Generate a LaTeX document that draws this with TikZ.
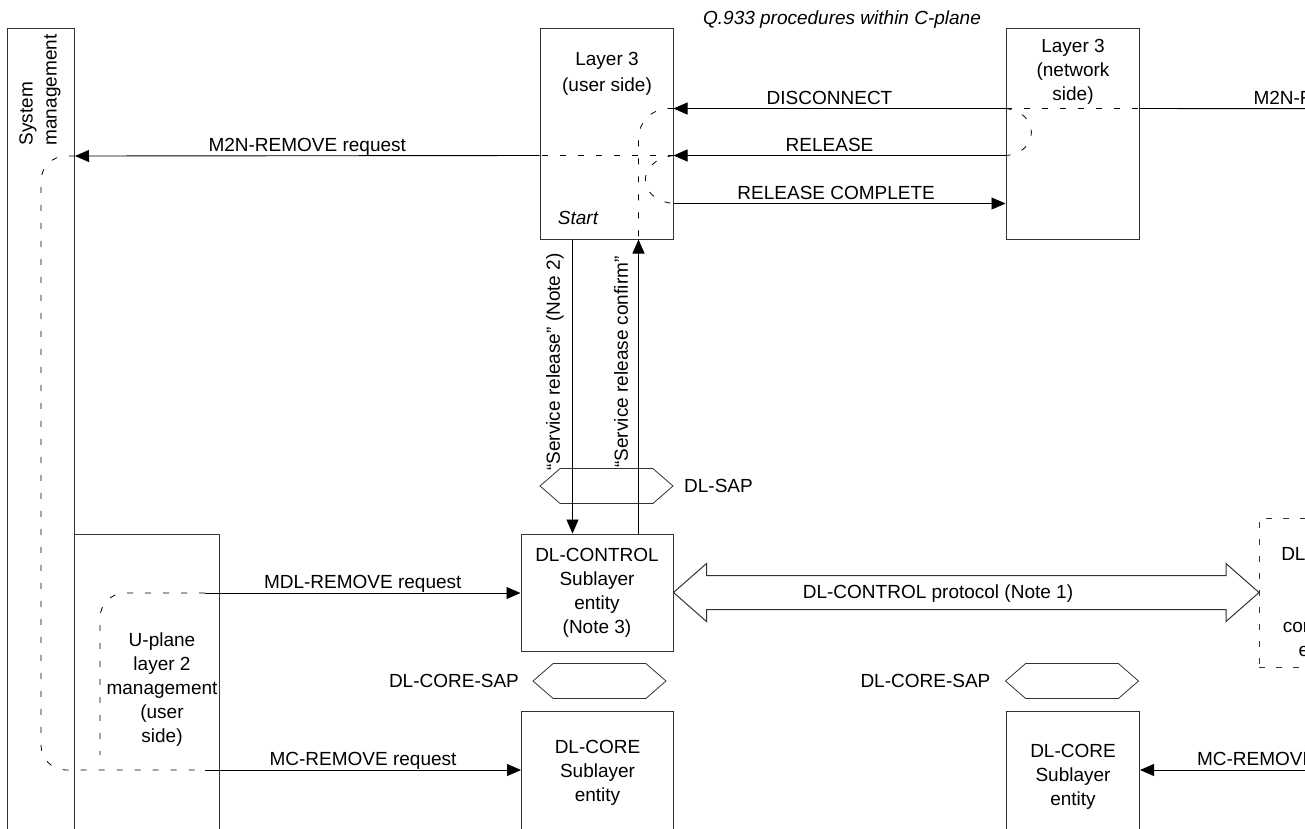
\documentclass[tikz,border=0pt]{standalone}
\usepackage{fontspec}
\setmainfont{Liberation Sans}
\usetikzlibrary{arrows.meta,calc,positioning,shapes.symbols}

\tikzset{
  box/.style={draw=black!80, line width=1pt, inner sep=0pt},
  peerbox/.style={draw=black!80, line width=0.8pt, dash pattern=on 6pt off 11pt, inner sep=0pt},
  sap/.style={draw=black!80, line width=0.8pt, signal, signal to=west and east, signal pointer angle=82,
    minimum width=133pt, minimum height=35pt, inner sep=0pt},
  msg/.style={line width=0.9pt, -{Triangle[length=14pt,width=12pt]}},
  flow/.style={black, line width=0.8pt, dash pattern=on 6pt off 12pt},
  lbl/.style={above, inner sep=1.5pt, text depth=.22em},
}

\begin{document}
\begin{tikzpicture}[x=1pt,y=-1pt,font=\fontsize{19}{24}\selectfont]
\useasboundingbox (0,0) rectangle (1305,828);
\clip (0,0) rectangle (1305,828);

% boxes
\node[box, anchor=north west, minimum width=67pt, minimum height=900pt] (sysm) at (7,28) {};
\node[box, anchor=north west, minimum width=145pt, minimum height=400pt] (uplane) at (74,534) {};
\node[box, minimum width=133pt, minimum height=211pt] (l3u) at (606.5,133.5) {};
\node[box, minimum width=133pt, minimum height=211pt] (l3n) at (1072.5,133.5) {};
\node[box, minimum width=152pt, minimum height=117pt, align=center] (ctrl) at (597,592.5) {DL-CONTROL\\Sublayer\\entity\\(Note 3)};
\node[box, anchor=north west, minimum width=152pt, minimum height=122pt, align=center] (corel) at (521,711) {DL-CORE\\Sublayer\\entity};
\node[box, anchor=north west, minimum width=133pt, minimum height=130pt, align=center] (corer) at (1006,711) {DL-CORE\\Sublayer\\entity};
\node[peerbox, anchor=north west, minimum width=170pt, minimum height=149pt] (peer) at (1259,518) {};

% texts
\node (q933) at (842,20) {\itshape Q.933 procedures within C-plane};
\node[rotate=90, align=left] (sysmtxt) at (40,90) {System\\management};
\node[align=center] (l3utxt) at (607,74) {Layer 3\\[2pt](user side)};
\node (start) at (578,218) {\itshape Start};
\node[align=center] (l3ntxt) at (1073,71.5) {Layer 3\\(network\\side)};
\node[align=center] (uptxt) at (162,690) {U-plane\\layer 2\\management\\(user\\side)};
\node[align=center] (peertxt) at (1343,604) {DL-CONTROL\\Sublayer\\entity\\corresponding\\equipment};

% service access points
\node[sap] (sap) at (606.5,486) {};
\node[right=7pt of sap] (saptxt) {DL-SAP};
\node[sap] (coresapl) at (599.5,681) {};
\node[left=10pt of coresapl] (coresapltxt) {DL-CORE-SAP};
\node[sap] (coresapr) at (1072,681) {};
\node[left=11pt of coresapr] (coresaprtxt) {DL-CORE-SAP};

% Q.933 messages
\draw[msg] ([yshift=-81pt]l3n.north west) -- node[lbl, pos=.53] {DISCONNECT} ([yshift=-81pt]l3u.north east);
\draw[msg] ([yshift=-128pt]l3n.north west) -- node[lbl, pos=.53] {RELEASE} ([yshift=-128pt]l3u.north east);
\draw[msg] ([yshift=-176pt]l3u.north east) -- node[lbl, pos=.49] {RELEASE COMPLETE} ([yshift=-176pt]l3n.north west);
\draw[msg] ([yshift=-128pt]l3u.north west) -- node[lbl] {M2N-REMOVE request} ([yshift=-128pt]sysm.north east);
\coordinate (m2nr) at (1565,109);
\draw[line width=0.9pt] ([yshift=-81pt]l3n.north east) -- node[lbl] {M2N-REMOVE request} (m2nr);

% service primitives
\draw[msg] ([xshift=33pt]l3u.south west) -- ([xshift=52pt]ctrl.north west);
\draw[msg] ([xshift=118pt]ctrl.north west) -- ([xshift=99pt]l3u.south west);
\node[rotate=90] (srtxt) at (555,362) {“Service release” (Note 2)};
\node[rotate=90] (srctxt) at (621,362) {“Service release confirm”};

% management primitives
\coordinate (mdl) at (205,593);
\coordinate (mc) at (205,770);
\coordinate (mcr) at (1441,770);
\draw[msg] (mdl) -- node[lbl] {MDL-REMOVE request} (mdl -| ctrl.west);
\draw[msg] (mc) -- node[lbl] {MC-REMOVE request} (mc -| corel.west);
\draw[msg] (mcr) -- node[lbl] {MC-REMOVE request} (mcr -| corer.east);

% peer protocol
\coordinate (ptip) at (ctrl.east -| peer.west);
\draw[box] (ctrl.east) -- ++(33,-29) -- ++(0,12) -- ($(ptip)+(-33,-17)$) -- ++(0,-12) -- (ptip)
  -- ++(-33,29) -- ++(0,-12) -- ($(ctrl.east)+(33,17)$) -- ++(0,12) -- cycle;
\node (prottxt) at (938,594) {DL-CONTROL protocol (Note 1)};

% dashed sequence lines
\draw[flow] ([yshift=-128pt]l3u.north east) -- ([yshift=-128pt]l3u.north west);
\draw[flow] ([yshift=-81pt]l3n.north west) -- ([yshift=-81pt]l3n.north east);
\draw[flow, rounded corners=25pt] ([yshift=-128pt]sysm.north east) -| (mc -| sysm.center) -- (mc);
\coordinate (uend) at (100,755);
\draw[flow, rounded corners=25pt] (mdl) -| (uend);
\draw[flow, rounded corners=30pt] ([yshift=-81pt]l3u.north east) -| ([xshift=99pt]l3u.south west);
\draw[flow] ([yshift=-128pt]l3u.north east) .. controls (636,160) and (636,200) .. ([yshift=-176pt]l3u.north east);
\draw[flow] ([yshift=-81pt]l3n.north west) .. controls (1040,112) and (1040,153) .. ([yshift=-128pt]l3n.north west);
\end{tikzpicture}
\end{document}
